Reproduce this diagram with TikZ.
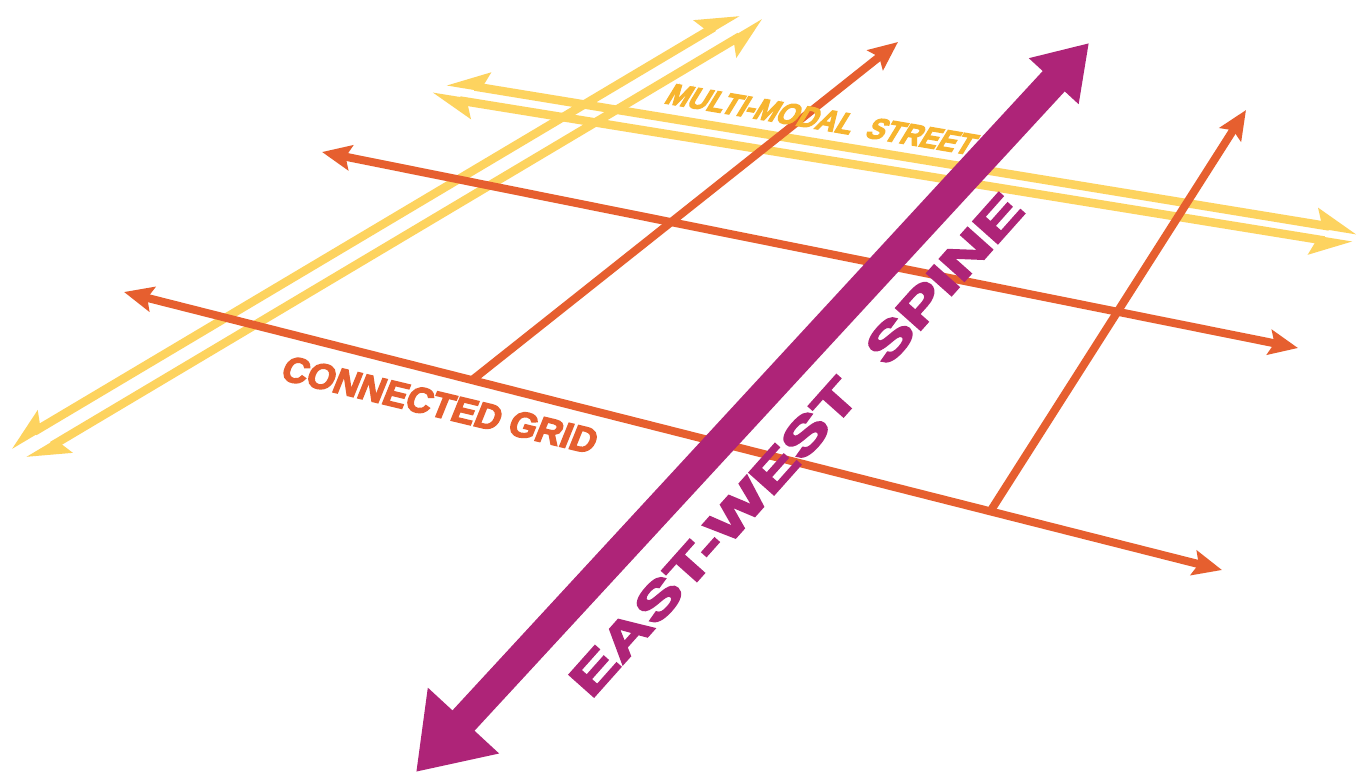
\documentclass[tikz,border=0pt]{standalone}
\usepackage{fontspec}
\setmainfont{Liberation Sans}
\newfontfamily\heavyfont{Liberation Sans}[BoldFeatures={FakeBold=4}]
\usetikzlibrary{arrows.meta}
\definecolor{laneyellow}{HTML}{FDD35F}
\definecolor{lanegold}{HTML}{F7B52F}
\definecolor{gridorange}{HTML}{E65F2F}
\definecolor{spinemagenta}{HTML}{AE2478}

\begin{document}
\begin{tikzpicture}[x=1pt, y=-1pt,
  lane/.style={draw=laneyellow, line width=8.5pt},
  laneupper/.style={lane, arrows={Stealth[right, length=34pt, width=32pt, inset=6pt]-Stealth[left, length=34pt, width=32pt, inset=6pt]}},
  lanelower/.style={lane, arrows={Stealth[left, length=34pt, width=32pt, inset=6pt]-Stealth[right, length=34pt, width=32pt, inset=6pt]}},
  gridline/.style={draw=gridorange, line width=8pt},
  gridtip/.style={arrows={-Stealth[length=29pt, width=25pt, inset=5pt]}},
  gridboth/.style={arrows={Stealth[length=29pt, width=25pt, inset=5pt]-Stealth[length=29pt, width=25pt, inset=5pt]}},
  label/.style={inner sep=0pt, anchor=base west, transform shape}]
  \fill[white] (0,0) rectangle (1364,774);
  \useasboundingbox (0,0) rectangle (1364,774);

  \coordinate (diagAs) at (10,446);   \coordinate (diagAe) at (738,13);
  \coordinate (diagBs) at (28,460);   \coordinate (diagBe) at (764,22);
  \coordinate (streetAs) at (447,82); \coordinate (streetAe) at (1357,231);
  \coordinate (streetBs) at (432,96); \coordinate (streetBe) at (1352,245);
  \draw[laneupper] (diagAs) -- (diagAe);
  \draw[lanelower] (diagBs) -- (diagBe);
  \draw[laneupper] (streetAs) -- (streetAe);
  \draw[lanelower] (streetBs) -- (streetBe);

  \coordinate (gridNw) at (322,152);  \coordinate (gridNe) at (1298,348);
  \coordinate (gridSw) at (124,292);  \coordinate (gridSe) at (1222,570);
  \coordinate (gridA) at (898,42);    \coordinate (gridB) at (1246,110);
  \draw[gridline, gridboth] (gridNw) -- (gridNe);
  \draw[gridline, gridboth] (gridSw) -- (gridSe)
    coordinate[pos=0.317] (footA) coordinate[pos=0.789] (footB);
  \draw[gridline, gridtip] (footA) -- (gridA);
  \draw[gridline, gridtip] (footB) -- (gridB);

  \node[label, text=lanegold, font=\fontsize{30}{30}\heavyfont\bfseries,
    rotate=-9.6, xslant=0.4, xscale=0.9] (streetname) at (663,103) {MULTI-MODAL\ \ STREET};

  \coordinate (spineS) at (416,772);  \coordinate (spineN) at (1089,43);
  \draw[draw=spinemagenta, line width=30pt,
    arrows={Triangle[length=70pt, width=92pt]-Triangle[length=52pt, width=64pt]}]
    (spineS) -- (spineN);

  \node[label, text=spinemagenta, font=\fontsize{48}{48}\heavyfont\bfseries,
    rotate=48.3, xscale=1.45] (spinename) at (591,700) {EAST-WEST\ \ SPINE};
  \node[label, text=gridorange, font=\fontsize{36}{36}\heavyfont\bfseries,
    rotate=-13.5, xslant=0.15, xscale=0.98] (gridname) at (279,379) {CONNECTED GRID};
\end{tikzpicture}
\end{document}
